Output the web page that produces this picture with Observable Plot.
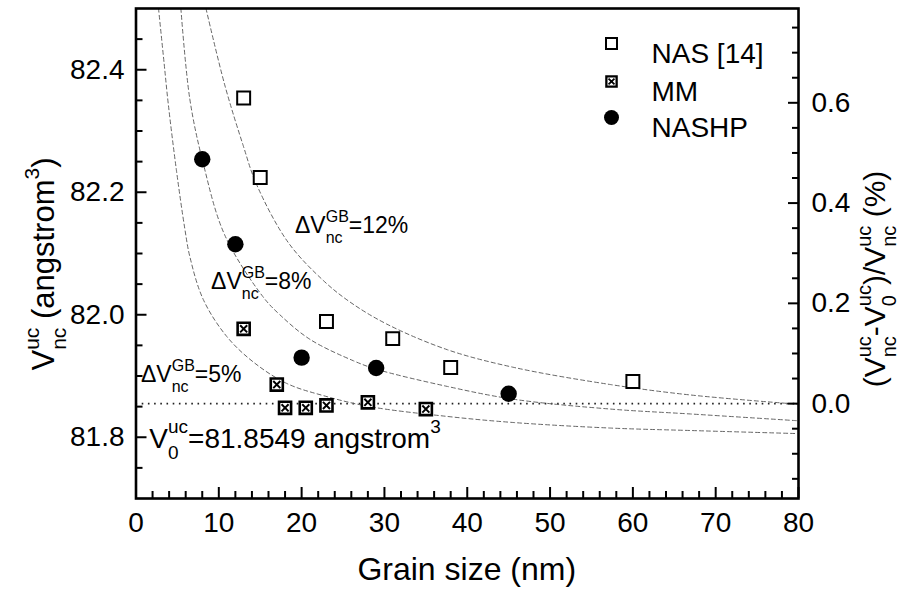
<!DOCTYPE html>
<html><head><meta charset="utf-8">
<script src="https://cdn.jsdelivr.net/npm/d3@7"></script>
<script src="https://cdn.jsdelivr.net/npm/@observablehq/plot@0.6"></script>
<style>
html,body{margin:0;padding:0;background:#fff;}
#chart svg{display:block;}
</style>
</head><body><div id="chart"></div>
<script>
// ---------- data ----------
const V0 = 81.8549;
const nasX = [13, 15, 23, 31, 38, 60];
const nasY = [82.354, 82.224, 81.989, 81.961, 81.914, 81.891];
const mmX = [13, 17, 18, 20.5, 23, 28, 35];
const mmY = [81.977, 81.886, 81.848, 81.848, 81.852, 81.857, 81.846];
const nashpX = [8, 12, 20, 29, 45];
const nashpY = [82.254, 82.115, 81.930, 81.913, 81.871];

const c5X = [2.72, 3.4, 3.89, 4.89, 5.9, 6.5, 8.12, 10.93, 14.15, 18.18, 22.61, 28.24, 37.58, 45.63, 57.31, 66.97, 79.86];
const c5Y = [82.5, 82.41, 82.345, 82.235, 82.14, 82.095, 82.025, 81.965, 81.923, 81.888, 81.868, 81.850, 81.834, 81.824, 81.815, 81.811, 81.806];
const c8X = [5.42, 6.50, 8.12, 10.72, 15.3, 17.37, 20.99, 26.23, 29.05, 37.58, 45.63, 57.31, 66.97, 79.86];
const c8Y = [82.5, 82.352, 82.247, 82.130, 82.030, 82.000, 81.960, 81.925, 81.911, 81.883, 81.862, 81.846, 81.838, 81.827];
const c12X = [8.45, 10.72, 12.95, 14.55, 18.38, 22.61, 25.82, 30.25, 37.58, 45.63, 57.31, 66.97, 79.86];
const c12Y = [82.5, 82.375, 82.276, 82.213, 82.118, 82.056, 82.021, 81.985, 81.943, 81.914, 81.886, 81.869, 81.854];

const xMajor = [0, 10, 20, 30, 40, 50, 60, 70, 80];
const xMinor = [2,4,6,8,12,14,16,18,22,24,26,28,32,34,36,38,42,44,46,48,52,54,56,58,62,64,66,68,72,74,76,78];
const yMajor = [81.8, 82.0, 82.2, 82.4];
const yMinor = [81.75, 81.85, 81.9, 81.95, 82.05, 82.1, 82.15, 82.25, 82.3, 82.35, 82.45];
const pMajor = [0, 0.2, 0.4, 0.6];
const pMinor = [-0.15, -0.1, -0.05, 0.05, 0.1, 0.15, 0.25, 0.3, 0.35, 0.45, 0.5, 0.55, 0.65, 0.7, 0.75];

const legendLabels = ["NAS [14]", "MM", "NASHP"];
const curvePct = ["12%", "8%", "5%"];
const annotX = [19.26, 9.12, 0.66];
const annotY = [82.132, 82.042, 81.889];
const v0LabelX = 1.67, v0LabelY = 81.782;

// ---------- build ----------
const FONT = '"Liberation Sans", Arial, Helvetica, sans-serif';
const W = 904, H = 594, mL = 135.5, mR = 106, mT = 8, mB = 96;
const zip = (xs, ys) => xs.map((x, i) => ({x, y: ys[i]}));
const nas = zip(nasX, nasY), mm = zip(mmX, mmY), nashp = zip(nashpX, nashpY);
const curves = [zip(c5X, c5Y), zip(c8X, c8Y), zip(c12X, c12Y)];
const pToV = p => V0 * (1 + p / 100);
const TICK = 28;

const legendRowDy = [35, 73, 109];
const legendMarks = [
  Plot.dot([0], {frameAnchor: "top-left", dx: 475.5, dy: legendRowDy[0], symbol: "square", r: 6.2, fill: "white", stroke: "black", strokeWidth: 2}),
  Plot.dot([0], {frameAnchor: "top-left", dx: 475.5, dy: legendRowDy[1], symbol: "square", r: 5.8, fill: "white", stroke: "black", strokeWidth: 2.3}),
  Plot.dot([0], {frameAnchor: "top-left", dx: 475.5, dy: legendRowDy[1], symbol: "times", r: 2.8, stroke: "black", strokeWidth: 1.8}),
  Plot.dot([0], {frameAnchor: "top-left", dx: 475.5, dy: legendRowDy[2], symbol: "circle", r: 7.5, fill: "black"}),
  ...legendLabels.map((t, i) => Plot.text([t], {frameAnchor: "top-left", dx: 515.5, dy: legendRowDy[i], textAnchor: "start", fontSize: TICK, fill: "black"}))
];

const plot = Plot.plot({
  width: W, height: H,
  marginLeft: mL, marginRight: mR, marginTop: mT, marginBottom: mB,
  style: {fontFamily: FONT, background: "white", color: "black", overflow: "visible"},
  x: {domain: [0, 80]},
  y: {domain: [81.7, 82.5]},
  marks: [
    Plot.ruleY([V0], {stroke: "#222", strokeWidth: 1.6, strokeDasharray: "1.6,4.6"}),
    ...curves.map(c => Plot.line(c, {x: "x", y: "y", stroke: "#666", strokeWidth: 1, strokeDasharray: "4,3", curve: "catmull-rom", clip: true})),
    Plot.dot(nas, {x: "x", y: "y", symbol: "square", r: 7.3, fill: "white", stroke: "black", strokeWidth: 2}),
    Plot.dot(mm, {x: "x", y: "y", symbol: "square", r: 6.8, fill: "white", stroke: "black", strokeWidth: 2.6}),
    Plot.dot(mm, {x: "x", y: "y", symbol: "times", r: 3.3, stroke: "black", strokeWidth: 2}),
    Plot.dot(nashp, {x: "x", y: "y", symbol: "circle", r: 8.2, fill: "black"}),
    ...legendMarks,
    Plot.axisX({ticks: xMajor, tickSize: -11, tickPadding: 25, fontSize: TICK, strokeWidth: 2, label: null, tickFormat: d => String(d)}),
    Plot.axisX({ticks: xMinor, tickSize: -7, tickFormat: () => "", strokeWidth: 2, label: null}),
    Plot.axisY({ticks: yMajor, anchor: "left", tickSize: -11, tickPadding: 22.5, fontSize: TICK, strokeWidth: 2, label: null, tickFormat: d => d.toFixed(1)}),
    Plot.axisY({ticks: yMinor, anchor: "left", tickSize: -7, tickFormat: () => "", strokeWidth: 2, label: null}),
    Plot.axisY({ticks: pMajor.map(pToV), anchor: "right", tickSize: -11, tickPadding: 24, fontSize: TICK, strokeWidth: 2, label: null, tickFormat: v => Math.abs((v / V0 - 1) * 100).toFixed(1)}),
    Plot.axisY({ticks: pMinor.map(pToV), anchor: "right", tickSize: -7, tickFormat: () => "", strokeWidth: 2, label: null}),
    Plot.frame({stroke: "black", strokeWidth: 2.6})
  ]
});
document.getElementById("chart").appendChild(plot);

// ---------- rich text (sub/superscripts) ----------
const svg = d3.select(plot);
function rich(g, segs, fs, sfs, supDy, subDy) {
  let x = 0;
  const add = (txt, xx, yy, size) => g.append("text").attr("x", xx).attr("y", yy)
    .attr("font-size", size).attr("fill", "black").attr("text-anchor", "start").text(txt);
  for (const s of segs) {
    if (typeof s === "string") {
      x += add(s, x, 0, fs).node().getComputedTextLength();
    } else {
      let w = 0;
      if (s.sup) w = Math.max(w, add(s.sup, x, -supDy, sfs).node().getComputedTextLength());
      if (s.sub) w = Math.max(w, add(s.sub, x, subDy, sfs).node().getComputedTextLength());
      x += w;
    }
  }
  return x;
}
const sx = plot.scale("x"), sy = plot.scale("y");
const layer = svg.append("g").attr("font-family", FONT).attr("text-anchor", "start");

// curve annotations
annotX.forEach((ax, i) => {
  const g = layer.append("g").attr("transform", `translate(${sx.apply(ax)},${sy.apply(annotY[i])})`);
  rich(g, ["\u0394V", {sup: "GB", sub: "nc"}, "=" + curvePct[i]], 23, 16, 11, 10);
});
// V0 label
{
  const g = layer.append("g").attr("transform", `translate(${sx.apply(v0LabelX)},${sy.apply(v0LabelY)})`);
  rich(g, ["V", {sup: "uc", sub: "0"}, "=81.8549 angstrom", {sup: "3"}], 28, 19, 15, 11);
}
// x title
{
  const g = layer.append("g");
  const w = rich(g, ["Grain size (nm)"], 32, 22, 0, 0);
  g.attr("transform", `translate(${mL + (W - mL - mR) / 2 - w / 2},${H - 14})`);
}
// left y title
{
  const g = layer.append("g");
  const w = rich(g, ["V", {sup: "uc", sub: "nc"}, " (angstrom", {sup: "3"}, ")"], 31, 21, 15, 12);
  g.attr("transform", `translate(54,${264 + w / 2}) rotate(-90)`);
}
// right y title
{
  const g = layer.append("g");
  const w = rich(g, ["(V", {sup: "uc", sub: "nc"}, "-V", {sup: "uc", sub: "0"}, ")/V", {sup: "uc", sub: "nc"}, " (%)"], 30, 20, 14, 11);
  g.attr("transform", `translate(885,${279 + w / 2}) rotate(-90)`);
}
</script>
</body></html>
